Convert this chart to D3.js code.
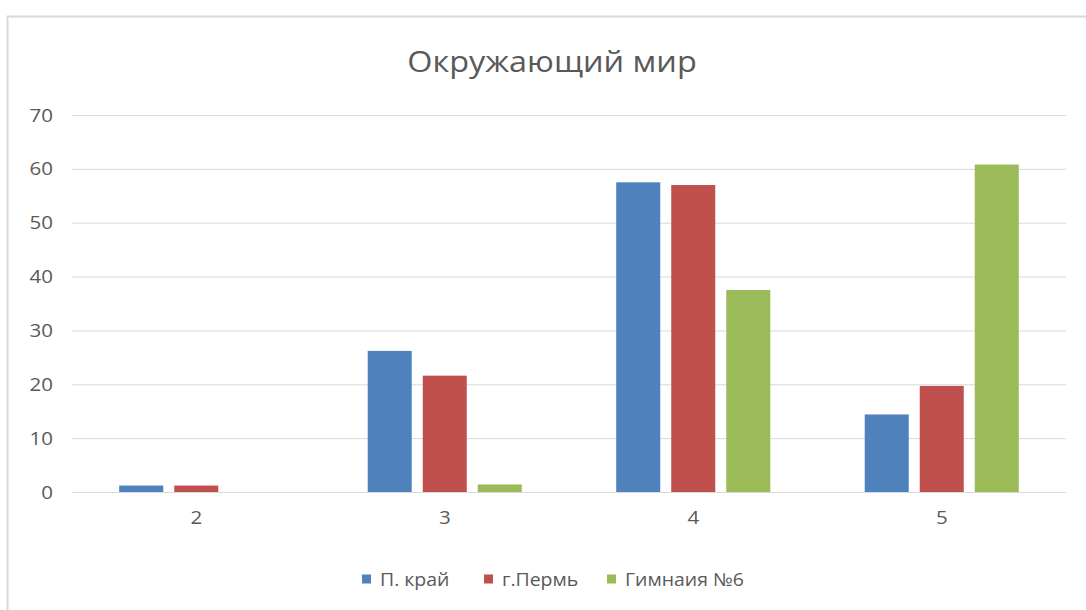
<!DOCTYPE html>
<html>
<head>
<meta charset="utf-8">
<script src="https://cdn.jsdelivr.net/npm/d3@7"></script>
<style>
  body { margin: 0; background: #fff; }
  svg { display: block; }
  text { font-family: "Open Sans", "DejaVu Sans", sans-serif; fill: #595959; }
</style>
</head>
<body>
<script>
var categories = ["2", "3", "4", "5"];
var seriesNames = ["П. край", "г.Пермь", "Гимнаия №6"];
var seriesColors = ["#4f81bd", "#c0504d", "#9bbb59"];
var kraiValues = [1.2, 26.2, 57.5, 14.4];
var permValues = [1.2, 21.6, 57.0, 19.7];
var gymValues = [0, 1.4, 37.5, 60.8];
var yTicks = [0, 10, 20, 30, 40, 50, 60, 70];
var chartTitle = "Окружающий мир";

var width = 1086, height = 610;
var margin = {top: 115, right: 20, bottom: 118, left: 72};
var plotW = width - margin.left - margin.right;
var plotH = height - margin.top - margin.bottom;
var stretch = 1.08; // the source picture is a bit wider than tall

var series = [kraiValues, permValues, gymValues];

var svg = d3.select("body").append("svg")
    .attr("width", width)
    .attr("height", height);

// chart frame
svg.append("rect")
    .attr("x", 7.5).attr("y", 16.5)
    .attr("width", width + 10).attr("height", height)
    .style("fill", "none")
    .style("stroke", "#d9d9d9")
    .style("stroke-width", 2);

svg.append("text")
    .attr("x", 552).attr("y", 72)
    .attr("text-anchor", "middle")
    .style("font-size", "30px")
    .text(chartTitle);

var g = svg.append("g").attr("transform", "translate(" + margin.left + "," + margin.top + ")");

var x = d3.scaleBand().domain(categories).range([0, plotW]);
var xInner = d3.scaleBand().domain(d3.range(series.length))
    .range([x.bandwidth() * 0.19, x.bandwidth() * 0.81])
    .paddingInner(0.2);
var y = d3.scaleLinear().domain([0, 70]).range([plotH, 0]);

// gridlines
var yAxis = d3.axisLeft(y).tickValues(yTicks).tickSize(-plotW).tickPadding(19);
var ya = g.append("g").call(yAxis);
ya.select(".domain").remove();
ya.selectAll(".tick line").style("stroke", "#d9d9d9").style("stroke-width", 1);
ya.selectAll(".tick text").style("font-size", "19px").style("fill", "#595959");

var xAxis = d3.axisBottom(x).tickSize(0).tickPadding(19);
var xa = g.append("g").attr("transform", "translate(0," + plotH + ")").call(xAxis);
xa.select(".domain").remove();
xa.selectAll(".tick text").style("font-size", "19px").style("fill", "#595959");

series.forEach(function(vals, si) {
    g.selectAll(".bar-" + si)
        .data(vals)
        .enter()
        .append("rect")
        .attr("class", "bar-" + si)
        .attr("x", function(d, i) { return x(categories[i]) + xInner(si); })
        .attr("width", xInner.bandwidth())
        .attr("y", function(d) { return y(d); })
        .attr("height", function(d) { return plotH - y(d); })
        .style("fill", seriesColors[si]);
});

// legend
var legendX = [362, 484, 607];
var legend = svg.append("g").attr("transform", "translate(0,579)");
seriesNames.forEach(function(name, i) {
    legend.append("rect")
        .attr("x", legendX[i]).attr("y", -4.5)
        .attr("width", 9).attr("height", 9)
        .style("fill", seriesColors[i]);
    legend.append("text")
        .attr("x", legendX[i] + 18).attr("y", 7)
        .style("font-size", "18px")
        .text(name);
});

// widen glyphs slightly to match the source
svg.selectAll("text").each(function() {
    var len = this.getComputedTextLength();
    d3.select(this)
        .attr("textLength", len * stretch)
        .attr("lengthAdjust", "spacingAndGlyphs");
});
</script>
</body>
</html>
